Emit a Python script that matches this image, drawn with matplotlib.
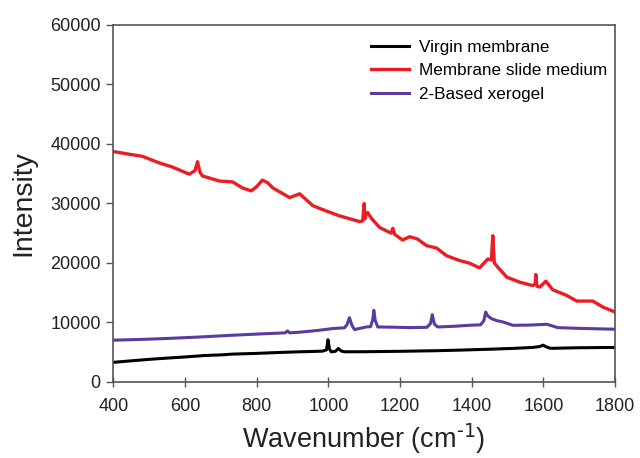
import matplotlib.pyplot as plt

plt.rcParams['font.family'] = ['Liberation Sans', 'DejaVu Sans']

# Virgin membrane
virgin_x = [400, 450, 500, 548, 600, 656, 700, 733, 800, 860, 920, 960, 984, 995, 999,
            1003, 1008, 1020, 1028, 1036, 1045, 1100, 1200, 1300, 1366, 1450, 1520,
            1570, 1590, 1599, 1608, 1620, 1700, 1800]
virgin_y = [3300, 3550, 3800, 4000, 4200, 4450, 4550, 4680, 4800, 4950, 5070, 5130, 5180,
            5400, 7100, 5600, 5070, 5150, 5630, 5200, 5070, 5080, 5150, 5250, 5350, 5500,
            5650, 5800, 5950, 6180, 5900, 5650, 5750, 5800]

# Membrane slide medium
medium_x = [400, 440, 481, 528, 565, 612, 628, 635, 642, 649, 696, 733, 760, 785, 800,
            816, 830, 845, 892, 920, 957, 995, 1031, 1087, 1096, 1100, 1102, 1106, 1110,
            1120, 1143, 1175, 1180, 1185, 1207, 1227, 1249, 1274, 1302, 1330, 1366, 1394,
            1422, 1445, 1455, 1459, 1463, 1473, 1498, 1534, 1570, 1577, 1579, 1582, 1590,
            1607, 1626, 1665, 1693, 1738, 1766, 1800]
medium_y = [38700, 38300, 37900, 36800, 36100, 34900, 35500, 37000, 35200, 34600, 33750,
            33600, 32600, 32100, 32800, 33900, 33500, 32600, 30970, 31600, 29600, 28700,
            27900, 26950, 27050, 29960, 27400, 28300, 28450, 27500, 25950, 25000, 25800,
            24800, 23840, 24400, 24000, 22900, 22500, 21200, 20400, 19950, 19160, 20660,
            20500, 24560, 20000, 19270, 17600, 16760, 16200, 16400, 18050, 16100, 15930,
            16930, 15490, 14540, 13590, 13590, 12580, 11750]

# 2-Based xerogel
xerogel_x = [400, 480, 548, 640, 733, 820, 880, 886, 892, 920, 970, 1012, 1045, 1052,
             1059, 1066, 1073, 1106, 1118, 1124, 1127, 1131, 1138, 1180, 1227, 1275,
             1285, 1290, 1296, 1305, 1350, 1394, 1425, 1434, 1439, 1445, 1455, 1470,
             1487, 1515, 1560, 1610, 1640, 1700, 1800]
xerogel_y = [7020, 7150, 7300, 7550, 7850, 8100, 8250, 8580, 8250, 8360, 8650, 8970, 9100,
             9600, 10800, 9500, 8800, 9240, 9300, 10500, 12030, 10300, 9240, 9200, 9130,
             9180, 9800, 11310, 9700, 9240, 9350, 9520, 9600, 10300, 11750, 11100, 10640,
             10300, 10080, 9520, 9550, 9690, 9130, 9000, 8860]

fig = plt.figure(figsize=(6.4, 4.58), dpi=100)
ax = fig.add_axes([0.177, 0.166, 0.784, 0.780])

ax.plot(virgin_x, virgin_y, color='black', lw=2.2, label='Virgin membrane')
ax.plot(medium_x, medium_y, color='#ec1c24', lw=2.4, label='Membrane slide medium')
ax.plot(xerogel_x, xerogel_y, color='#5b3c9e', lw=2.2, label='2-Based xerogel')

ax.set_xlim(400, 1800)
ax.set_ylim(0, 60000)
ax.set_xticks(range(400, 1801, 200))
ax.set_yticks(range(0, 60001, 10000))

for s in ax.spines.values():
    s.set_color('#555555')
    s.set_linewidth(1.2)
ax.tick_params(axis='y', direction='out', length=5, width=1.0, color='#555555',
               labelsize=13, labelcolor='#222222', pad=4)
ax.tick_params(axis='x', direction='inout', length=7, width=1.0, color='#555555',
               labelsize=13, labelcolor='#222222', pad=8)

ax.set_xlabel('Wavenumber (cm$^{\\text{-1}}$)', fontsize=19.5, color='#222222',
              labelpad=5)
ax.set_ylabel('Intensity', fontsize=20.5, color='#222222', labelpad=10)

ax.legend(loc='upper left', bbox_to_anchor=(0.5, 0.977), frameon=False, fontsize=12.3,
          handlelength=2.2, handletextpad=0.6, labelspacing=0.5, borderaxespad=0)

fig.savefig('out.png', dpi=100)
